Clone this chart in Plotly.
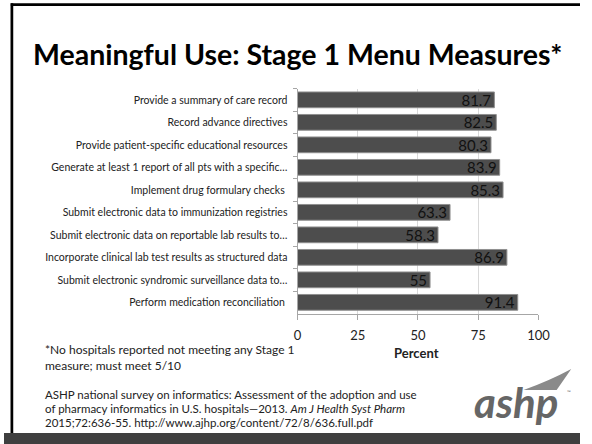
import plotly.graph_objects as go

W, H = 592, 444

categories = [
    "Provide a summary of care record",
    "Record advance directives",
    "Provide patient-specific educational resources",
    "Generate at least 1 report of all pts with a specific…",
    "Implement drug formulary checks\u00a0",
    "Submit electronic data to immunization registries",
    "Submit electronic data on reportable lab results to…",
    "Incorporate clinical lab test results as structured data",
    "Submit electronic syndromic surveillance data to…",
    "Perform medication reconciliation\u00a0",
]
values = [81.7, 82.5, 80.3, 83.9, 85.3, 63.3, 58.3, 86.9, 55, 91.4]
x_ticks = [0, 25, 50, 75, 100]

title_text = "Meaningful Use: Stage 1 Menu Measures*"
x_title = "Percent"
footnote_lines = ["*No hospitals reported not meeting any Stage 1",
                  "measure; must meet 5/10"]
citation_lines = ["ASHP national survey on informatics: Assessment of the adoption and use",
                  "of pharmacy informatics in U.S. hospitals\u20142013. <i>Am J Health Syst Pharm</i>",
                  "2015;72:636-55. http://www.ajhp.org/content/72/8/636.full.pdf"]

FONT = "Lato"


def px(x):
    return x / W


def py(y):
    return 1 - y / H


fig = go.Figure()
fig.add_trace(go.Bar(
    y=categories,
    x=values,
    orientation="h",
    marker=dict(color="#4d4d4d", line=dict(color="#8f8f8f", width=1)),
    text=[str(v) for v in values],
    textposition="inside",
    insidetextanchor="end",
    textangle=0,
    textfont=dict(family=FONT, size=15, color="#111111"),
    hoverinfo="skip",
))

shapes = [
    dict(type="rect", xref="paper", yref="paper", x0=px(7), x1=px(W), y0=py(6), y1=py(3.3),
         fillcolor="#000000", line=dict(width=0), layer="above"),
    dict(type="rect", xref="paper", yref="paper", x0=px(6.7), x1=px(9.5), y0=py(433), y1=py(3.3),
         fillcolor="#000000", line=dict(width=0), layer="above"),
    dict(type="rect", xref="paper", yref="paper", x0=0, x1=1, y0=0, y1=py(433),
         fillcolor="#3f3f3f", line=dict(width=0), layer="above"),
    dict(type="path", xref="paper", yref="paper",
         path=(f"M {px(534)},{py(390)} Q {px(560)},{py(381)} {px(583)},{py(369)} "
               f"L {px(568)},{py(390)} Z"),
         fillcolor="#8a8a8a", line=dict(width=0), layer="above"),
]

annotations = [
    dict(text=f"<b>{title_text}</b>", x=px(302), y=py(54), xref="paper", yref="paper",
         xanchor="center", yanchor="middle", showarrow=False,
         font=dict(family=FONT, size=28.5, color="#000000")),
    dict(text=f"<b>{x_title}</b>", x=px(424), y=py(353), xref="paper", yref="paper",
         xanchor="center", yanchor="middle", showarrow=False,
         font=dict(family=FONT, size=13, color="#222222")),
    dict(text="<b><i>ashp</i></b>", x=px(571), y=py(402), xref="paper", yref="paper",
         xanchor="right", yanchor="middle", showarrow=False,
         font=dict(family=FONT, size=42, color="#666666", weight=900)),
    dict(text="\u2122", x=px(581), y=py(392), xref="paper", yref="paper",
         xanchor="center", yanchor="middle", showarrow=False,
         font=dict(family=FONT, size=5, color="#666666")),
]
for line, yc in zip(footnote_lines, [349, 365]):
    annotations.append(dict(text=line, x=px(41), y=py(yc), xref="paper", yref="paper",
                            xanchor="left", yanchor="middle", align="left", showarrow=False,
                            borderpad=0,
                            font=dict(family=FONT, size=12, color="#222222")))
for line, yc in zip(citation_lines, [394, 408.2, 422.4]):
    annotations.append(dict(text=line, x=px(41), y=py(yc), xref="paper", yref="paper",
                            xanchor="left", yanchor="middle", align="left", showarrow=False,
                            borderpad=0,
                            font=dict(family=FONT, size=11.5, color="#222222")))

fig.update_layout(
    width=W, height=H,
    margin=dict(l=0, r=0, t=0, b=0),
    paper_bgcolor="white", plot_bgcolor="white",
    showlegend=False,
    bargap=0.3,
    uniformtext=dict(minsize=15, mode="show"),
    shapes=shapes,
    annotations=annotations,
    xaxis=dict(
        domain=[px(301.7), px(549.3)],
        range=[0, 100],
        tickvals=x_ticks,
        ticktext=[str(t) for t in x_ticks],
        showgrid=True, gridcolor="#d9d9d9", gridwidth=1,
        zeroline=False,
        showline=True, linecolor="#a6a6a6", linewidth=1,
        ticks="outside", ticklen=5, tickcolor="#a6a6a6",
        tickfont=dict(family=FONT, size=13, color="#222222"),
        ticklabelstandoff=5,
        fixedrange=True,
    ),
    yaxis=dict(
        domain=[py(313.6), py(88.6)],
        autorange="reversed",
        type="category",
        showgrid=False,
        showline=True, linecolor="#a6a6a6", linewidth=1,
        ticks="outside", ticklen=4, tickcolor="#a6a6a6",
        tickson="boundaries",
        tickfont=dict(family=FONT, size=10.5, color="#222222"),
        ticklabelstandoff=7,
        fixedrange=True,
    ),
)

fig.write_html("out.html")
